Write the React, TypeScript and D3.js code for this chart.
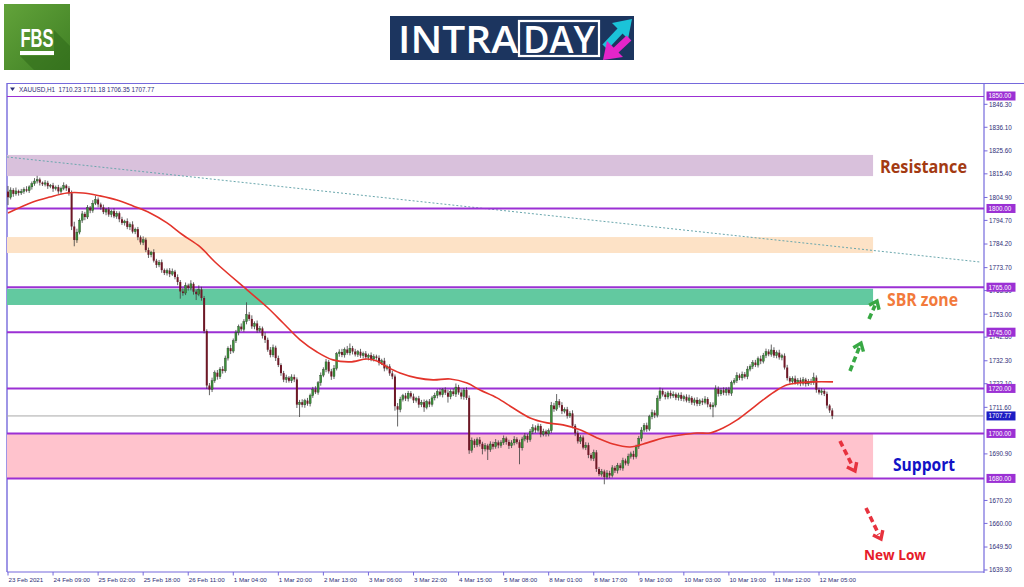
import React from "react";
import * as d3 from "d3";

const W = 1024;
const H = 587;

const symbolHeader = "XAUUSD,H1  1710.23 1711.18 1706.35 1707.77";

const timeLabels = [
  "23 Feb 2021", "24 Feb 09:00", "25 Feb 02:00", "25 Feb 18:00", "26 Feb 11:00",
  "1 Mar 04:00", "1 Mar 20:00", "2 Mar 13:00", "3 Mar 06:00", "3 Mar 22:00",
  "4 Mar 15:00", "5 Mar 08:00", "8 Mar 01:00", "8 Mar 17:00", "9 Mar 10:00",
  "10 Mar 03:00", "10 Mar 19:00", "11 Mar 12:00", "12 Mar 05:00",
];
const barsPerLabel = 17;

const firstOpen = 1807.5;
const closes = [
  1805.0, 1808.2, 1806.5, 1807.8, 1806.9, 1807.6, 1808.5, 1807.9, 1809.6, 1811.0,
  1812.2, 1812.9, 1811.5, 1810.8, 1811.4, 1809.9, 1810.3, 1808.8, 1809.5, 1807.6,
  1808.9, 1810.2, 1809.0, 1806.8, 1792.0, 1786.0, 1789.5, 1794.8, 1797.6, 1796.2,
  1800.4, 1799.1, 1802.3, 1804.0, 1801.8, 1800.5, 1798.4, 1799.6, 1797.3, 1798.8,
  1796.5, 1797.9, 1795.2, 1793.6, 1794.4, 1791.8, 1792.9, 1789.7, 1790.8, 1787.2,
  1784.9, 1786.1, 1781.5, 1779.4, 1780.6, 1776.8, 1774.9, 1776.1, 1772.6, 1771.3,
  1772.4, 1770.8, 1771.9, 1769.5, 1767.3, 1763.1, 1762.4, 1765.8, 1764.6, 1766.5,
  1763.0, 1761.9, 1764.0, 1760.2, 1745.5, 1721.3, 1719.5, 1723.4, 1727.0, 1725.2,
  1728.6, 1727.8, 1733.5, 1737.9, 1736.6, 1741.2, 1744.8, 1747.5, 1746.3, 1749.7,
  1752.8, 1750.9, 1747.6, 1748.9, 1745.8, 1746.7, 1743.4, 1741.6, 1737.2, 1734.9,
  1738.1, 1733.5, 1730.4, 1726.8, 1723.9, 1724.8, 1723.4, 1725.1, 1724.0, 1712.8,
  1713.9, 1712.7, 1714.6, 1713.2, 1716.8, 1719.6, 1718.3, 1722.5, 1725.9, 1728.4,
  1731.8, 1727.6, 1725.3, 1728.9, 1735.4, 1736.2, 1734.9, 1737.3, 1735.8, 1737.9,
  1736.4, 1735.1, 1736.3, 1734.6, 1735.5, 1733.9, 1734.8, 1733.1, 1734.2, 1733.6,
  1731.4, 1732.3, 1728.9, 1729.8, 1726.7, 1725.3, 1712.1, 1710.6, 1715.2, 1716.8,
  1715.5, 1717.9, 1716.4, 1714.7, 1715.6, 1712.8, 1713.9, 1711.6, 1714.2, 1712.9,
  1715.8, 1716.9, 1718.6, 1717.2, 1719.4, 1718.1, 1716.3, 1718.7, 1717.5, 1720.6,
  1718.2, 1716.4, 1719.3, 1715.8, 1692.5, 1696.8, 1694.9, 1697.2, 1695.4, 1693.1,
  1694.6, 1692.8, 1695.3, 1694.1, 1696.0, 1694.7, 1695.9, 1697.8, 1696.2, 1694.5,
  1695.8, 1697.4, 1696.1, 1693.6, 1697.5, 1698.9, 1697.2, 1700.8, 1702.6, 1701.4,
  1703.3, 1699.6, 1700.9, 1699.8, 1701.2, 1712.4, 1710.8, 1714.3, 1712.6, 1709.9,
  1710.7, 1707.8, 1708.9, 1703.4, 1700.1, 1696.5, 1698.2, 1693.7, 1694.8, 1690.4,
  1688.9, 1691.6, 1684.2, 1681.9, 1683.1, 1680.6, 1682.4, 1681.3, 1684.7, 1683.5,
  1685.8, 1684.6, 1687.9, 1686.7, 1689.8, 1690.9, 1689.6, 1694.2, 1697.8, 1701.5,
  1703.6, 1701.9, 1707.4, 1709.2, 1708.1, 1715.6, 1718.9, 1717.3, 1716.2, 1718.0,
  1716.7, 1717.4, 1715.9, 1717.1, 1715.4, 1716.3, 1714.6, 1715.8, 1713.7, 1714.9,
  1713.2, 1714.5, 1713.8, 1715.3, 1712.9, 1711.8, 1712.6, 1719.8, 1717.6, 1719.2,
  1718.1, 1719.5, 1717.9, 1722.6, 1723.5, 1725.8, 1724.7, 1726.3, 1725.2, 1728.6,
  1729.8, 1731.5, 1730.4, 1733.2, 1732.1, 1734.7, 1736.4, 1735.2, 1737.1, 1734.6,
  1735.9, 1733.8, 1734.5, 1729.3, 1724.6, 1723.1, 1724.4, 1722.5, 1723.7, 1722.3,
  1723.9, 1722.0, 1723.2, 1722.6, 1724.8, 1719.4, 1718.2, 1718.9, 1717.6, 1712.4,
  1710.23, 1707.77,
];
const upWick = [
  2.5, 1.2, 0.8, 1.5, 0.6, 1.1, 0.9, 1.4, 0.7, 1.0,
  1.3, 1.6, 0.8, 0.5, 1.2, 0.9, 0.6, 1.1, 0.7, 1.0,
  0.8, 1.4, 0.6, 0.9, 1.2, 2.1, 1.5, 0.8, 1.3, 0.9,
  1.1, 0.7, 1.4, 1.6, 0.9, 0.8, 1.2, 0.6, 1.0, 0.7,
  1.3, 0.9, 0.8, 1.1, 0.6, 1.2, 0.9, 1.4, 0.7, 1.0,
  0.8, 1.5, 0.9, 1.1, 0.6, 1.3, 0.8, 1.0, 1.2, 0.7,
  0.9, 1.1, 1.4, 0.8, 1.2, 0.9, 1.5, 1.3, 0.8, 1.6,
  0.7, 1.0, 1.8, 1.2, 0.9, 0.8, 1.1, 1.4, 1.0, 1.2,
  0.9, 1.3, 1.1, 0.8, 1.5, 1.0, 1.2, 0.9, 1.4, 1.1,
  5.5, 1.2, 1.6, 0.9, 1.3, 1.1, 0.8, 1.5, 1.0, 1.2,
  1.4, 0.9, 1.1, 0.8, 1.0, 1.3, 0.7, 1.2, 1.1, 0.9,
  1.0, 1.3, 0.8, 1.2, 0.9, 1.1, 1.4, 0.8, 1.2, 1.0,
  1.3, 0.9, 1.1, 1.5, 0.8, 1.2, 1.4, 0.9, 1.6, 2.1,
  1.0, 1.2, 0.8, 1.3, 0.9, 1.1, 0.7, 1.2, 1.0, 0.8,
  1.1, 0.9, 1.3, 0.8, 1.0, 1.2, 0.9, 1.4, 1.1, 0.8,
  1.2, 1.0, 0.9, 1.3, 0.7, 1.1, 1.0, 1.2, 0.8, 1.1,
  0.9, 1.2, 1.0, 1.4, 0.8, 1.1, 1.3, 0.9, 1.2, 1.6,
  1.0, 1.3, 0.9, 1.2, 1.1, 1.4, 0.8, 1.0, 1.2, 0.9,
  1.1, 0.8, 1.2, 1.0, 1.5, 0.9, 1.1, 1.3, 0.8, 1.0,
  1.2, 1.4, 0.9, 1.1, 1.0, 1.3, 0.8, 1.2, 1.5, 1.0,
  1.1, 0.9, 1.2, 0.8, 1.0, 1.6, 1.2, 3.2, 1.0, 1.3,
  0.9, 1.1, 1.0, 1.4, 0.8, 1.2, 1.0, 0.9, 1.3, 1.1,
  0.8, 1.2, 1.0, 0.9, 1.1, 0.8, 1.3, 1.0, 1.2, 0.9,
  1.1, 1.0, 1.3, 0.9, 1.2, 1.0, 1.4, 0.8, 1.1, 1.3,
  1.0, 1.2, 0.9, 1.4, 1.1, 1.3, 1.5, 1.0, 1.2, 0.9,
  1.1, 1.3, 0.8, 1.0, 1.2, 0.9, 1.1, 1.4, 0.8, 1.0,
  1.2, 0.9, 1.1, 1.3, 0.8, 1.0, 1.2, 1.6, 1.1, 0.9,
  1.3, 1.0, 1.2, 0.9, 1.1, 1.4, 0.8, 1.2, 1.0, 1.3,
  0.9, 1.1, 1.2, 1.0, 1.4, 1.1, 1.3, 1.0, 2.4, 1.2,
  1.0, 1.3, 0.9, 1.1, 1.2, 0.8, 1.0, 1.3, 0.9, 1.1,
  1.2, 0.8, 1.0, 1.1, 2.2, 1.0, 0.9, 1.2, 0.8, 1.0,
  0.6, 0.95,
];
const downWick = [
  3.5, 1.0, 1.3, 0.8, 1.2, 0.9, 1.1, 0.7, 1.0, 1.2,
  0.9, 1.1, 1.3, 0.8, 1.0, 1.2, 0.9, 1.4, 0.8, 1.1,
  1.0, 0.8, 1.2, 1.1, 1.6, 2.8, 1.3, 1.0, 1.2, 1.4,
  0.9, 1.2, 1.0, 0.8, 1.3, 1.1, 0.9, 1.4, 1.0, 1.2,
  0.8, 1.1, 1.3, 0.9, 1.2, 1.0, 1.4, 0.8, 1.1, 1.3,
  1.0, 1.2, 0.9, 1.4, 1.1, 0.8, 1.3, 1.0, 1.2, 0.9,
  1.1, 1.3, 0.8, 1.0, 1.4, 3.2, 1.2, 0.9, 1.1, 1.0,
  1.3, 2.6, 0.9, 1.2, 1.0, 1.5, 2.5, 1.1, 0.9, 1.3,
  1.0, 1.2, 0.8, 1.1, 1.3, 0.9, 1.0, 1.2, 0.8, 1.1,
  1.2, 0.9, 1.1, 1.3, 1.0, 0.8, 1.2, 1.4, 0.9, 1.1,
  1.0, 1.3, 0.9, 1.2, 1.1, 1.4, 0.8, 1.0, 1.2, 1.5,
  5.5, 1.1, 1.3, 0.9, 1.2, 1.0, 0.8, 1.1, 1.3, 0.9,
  1.2, 1.0, 1.5, 1.1, 0.9, 1.3, 1.0, 1.2, 0.8, 1.1,
  1.3, 0.9, 1.1, 1.0, 1.2, 0.8, 1.4, 1.0, 1.1, 0.9,
  1.2, 1.0, 1.3, 0.9, 1.1, 1.2, 2.0, 7.5, 1.2, 1.0,
  1.1, 1.3, 0.9, 1.2, 1.0, 1.4, 1.1, 2.0, 0.9, 1.2,
  1.0, 1.1, 1.3, 0.8, 1.2, 1.0, 2.6, 1.1, 0.9, 1.3,
  1.0, 1.2, 1.4, 0.9, 1.6, 1.1, 1.3, 1.0, 1.2, 2.4,
  1.1, 4.6, 1.0, 1.2, 0.9, 1.3, 1.1, 1.0, 1.2, 1.4,
  1.0, 1.1, 0.9, 7.3, 1.2, 1.0, 1.3, 0.9, 1.1, 1.2,
  1.0, 1.3, 0.9, 1.2, 1.1, 1.0, 1.2, 0.8, 1.1, 1.3,
  1.0, 1.2, 0.9, 1.1, 1.3, 1.0, 1.2, 0.8, 1.1, 1.4,
  1.0, 1.2, 1.3, 0.9, 1.1, 3.2, 1.0, 1.2, 0.9, 1.1,
  1.3, 1.0, 1.2, 0.9, 1.1, 1.0, 1.2, 0.8, 1.1, 1.3,
  1.0, 1.2, 0.9, 1.1, 1.3, 1.0, 1.2, 0.9, 1.1, 1.0,
  1.2, 0.9, 1.1, 1.3, 1.0, 1.2, 0.8, 1.1, 1.0, 1.3,
  1.1, 1.0, 1.2, 0.9, 1.3, 1.1, 4.6, 1.0, 1.2, 0.9,
  1.1, 1.3, 1.0, 1.2, 0.9, 1.1, 1.0, 1.2, 0.8, 1.1,
  1.0, 1.2, 0.9, 1.1, 1.3, 1.0, 1.2, 0.9, 1.1, 1.0,
  1.2, 1.0, 1.3, 0.9, 1.1, 1.0, 1.2, 0.8, 1.1, 1.3,
  1.0, 1.2, 0.9, 1.1, 1.0, 1.3, 0.9, 1.2, 1.0, 1.3,
  1.1, 1.42,
];

// moving average line: bar index and price
const maBars = [
  0, 9.4, 15.8, 22.3, 28.3, 34.7, 41.1, 47.2, 53.6, 60, 66, 72.5, 78.1, 90.2, 97.7,
  103.8, 110.2, 116.6, 122.6, 129.1, 135.5, 139.2, 143, 147.9, 154.3, 160.4, 166.8,
  173.2, 178.1, 184.5, 190.6, 197, 203.4, 209.4, 215.8, 222.3, 228.3, 234.7, 241.1,
  247.2, 253.6, 260, 264.9, 269.8, 275.1, 280, 284.9, 290.2, 294, 297.7, 303.8, 311.3,
];
const maPrices = [
  1798.0, 1802.9, 1805.1, 1806.9, 1806.9, 1805.6, 1803.8, 1801.1, 1798.0, 1793.6,
  1788.2, 1782.9, 1776.2, 1763.8, 1756.2, 1749.1, 1741.6, 1736.2, 1732.7, 1731.8,
  1733.1, 1732.2, 1729.6, 1726.9, 1724.7, 1723.8, 1724.2, 1722.4, 1719.3, 1715.8,
  1711.3, 1706.9, 1704.7, 1703.8, 1701.6, 1698.0, 1695.3, 1694.0, 1695.8, 1698.0,
  1699.3, 1700.2, 1700.2, 1702.4, 1706.0, 1710.4, 1714.9, 1719.3, 1721.6, 1722.4,
  1722.9, 1722.9,
];

const trendBars = [-0.4, 366.8];
const trendPrices = [1822.9, 1776.2];

const levelPrices = [1850, 1800, 1765, 1745, 1720, 1700, 1680];
const priceTicks = [
  1846.3, 1836.1, 1825.6, 1815.4, 1804.9, 1794.7, 1784.2, 1773.7, 1763.5, 1753.0,
  1742.8, 1732.3, 1722.1, 1711.6, 1690.9, 1670.2, 1660.0, 1649.5, 1639.3,
];
const lastPrice = 1707.77;

const zoneLow = [1814.4, 1780.2, 1757.1, 1680.0];
const zoneHigh = [1823.8, 1787.3, 1764.3, 1700.0];
const zoneEndBar = 326.4;

// styles
const zoneColors = ["#d9c1dc", "#fde2c6", "#62c9a0", "#ffc3cd"];
const levelColor = "#9b30d4";
const frameColor = "#7569dc";
const axisText = "#2e2e78";
const bullColor = "#3d8f3a";
const bullEdge = "#1f3d1f";
const bearColor = "#6e1826";
const wickColor = "#3e3e3e";
const axisFont = "'Liberation Sans', Arial, sans-serif";

const plotLeft = 7;
const plotRight = 984;
const plotTop = 96;
const plotBottom = 572;

function Arrow({ x1, y1, x2, y2, color }: { x1: number; y1: number; x2: number; y2: number; color: string }) {
  const ang = Math.atan2(y2 - y1, x2 - x1);
  const len = 9;
  const a1 = ang + Math.PI - 0.65;
  const a2 = ang + Math.PI + 0.65;
  const sx = x2 - Math.cos(ang) * 5;
  const sy = y2 - Math.sin(ang) * 5;
  return (
    <g>
      <line x1={x1} y1={y1} x2={sx} y2={sy} stroke={color} strokeWidth={3.6} strokeDasharray="6 3.5" />
      <polyline
        points={`${x2 + Math.cos(a1) * len},${y2 + Math.sin(a1) * len} ${x2},${y2} ${x2 + Math.cos(a2) * len},${y2 + Math.sin(a2) * len}`}
        fill="none"
        stroke={color}
        strokeWidth={3.4}
        strokeLinejoin="miter"
      />
    </g>
  );
}

export default function App() {
  const x = d3.scaleLinear().domain([0, 306]).range([8, 819]);
  const y = d3.scaleLinear().domain([1638.4, 1850]).range([plotBottom, plotTop]);

  const candles = closes.map((c, i) => {
    const o = i === 0 ? firstOpen : closes[i - 1];
    const hi = Math.max(o, c) + upWick[i];
    const lo = Math.min(o, c) - downWick[i];
    return { i, o, c, hi, lo };
  });

  const maLine = d3
    .line<number>()
    .x((_, k) => x(maBars[k]))
    .y((p) => y(p))
    .curve(d3.curveCatmullRom.alpha(0.5));

  const bodyW = 2;

  return (
    <svg
      width={W}
      height={H}
      viewBox={`0 0 ${W} ${H}`}
      style={{ position: "absolute", left: 0, top: 0, background: "#fff" }}
    >
      <defs>
        <linearGradient id="fbsg" x1="0" y1="0" x2="1" y2="1">
          <stop offset="0" stopColor="#62a33a" />
          <stop offset="1" stopColor="#3f7f24" />
        </linearGradient>
        <clipPath id="plot">
          <rect x={plotLeft} y={plotTop} width={plotRight - plotLeft} height={plotBottom - plotTop} />
        </clipPath>
      </defs>
      <rect x={0} y={0} width={W} height={H} fill="#fff" />

      {/* FBS logo */}
      <g>
        <rect x={4} y={4} width={66} height={66} fill="url(#fbsg)" />
        <polygon points="20,56 54,56 54,30 70,46 70,70 34,70" fill="#2f6a1a" opacity={0.55} />
        <text
          x={37}
          y={47}
          textAnchor="middle"
          fill="#fff"
          fontFamily="'Liberation Sans Narrow', 'Liberation Sans', Arial, sans-serif"
          fontWeight="bold"
          fontSize={26}
          textLength={33}
          lengthAdjust="spacingAndGlyphs"
        >
          FBS
        </text>
        <rect x={20} y={51} width={34} height={4} fill="#fff" />
      </g>

      {/* INTRADAY logo */}
      <g>
        <rect x={390} y={16} width={244} height={44} fill="#1c355f" />
        <text
          x={398}
          y={53}
          fill="#fff"
          fontFamily="'Open Sans', Arial, sans-serif"
          fontWeight={600}
          fontSize={38}
          textLength={120}
          lengthAdjust="spacingAndGlyphs"
        >
          INTRA
        </text>
        <rect x={519} y={21} width={80} height={35} fill="none" stroke="#fff" strokeWidth={2.2} />
        <text
          x={523}
          y={53}
          fill="#fff"
          fontFamily="'Open Sans', Arial, sans-serif"
          fontWeight={600}
          fontSize={38}
          textLength={72}
          lengthAdjust="spacingAndGlyphs"
        >
          DAY
        </text>
        <line x1={605} y1={47} x2={621} y2={30} stroke="#1bc3d8" strokeWidth={7} />
        <polygon points="632,19 612,23 628,39" fill="#1bc3d8" />
        <line x1={629} y1={38} x2={614} y2={52} stroke="#e425c9" strokeWidth={7} />
        <polygon points="603,60 607,41 623,57" fill="#e425c9" />
      </g>

      {/* chart frame */}
      <line x1={plotLeft} y1={83.5} x2={W} y2={83.5} stroke={frameColor} strokeWidth={1.2} />
      <line x1={plotLeft} y1={83} x2={plotLeft} y2={plotBottom} stroke={frameColor} strokeWidth={1.4} />
      <line x1={plotRight} y1={83} x2={plotRight} y2={plotBottom + 1} stroke={frameColor} strokeWidth={1.2} />
      <line x1={plotLeft} y1={plotBottom} x2={plotRight} y2={plotBottom} stroke={frameColor} strokeWidth={1.2} />
      <path d="M10,87.5 L15,87.5 L12.5,91 Z" fill={axisText} />
      <text x={19} y={91.5} fontSize={6.3} fill={axisText} fontFamily={axisFont} xmlSpace="preserve">
        {symbolHeader}
      </text>

      <g clipPath="url(#plot)">
        {zoneLow.map((lo, k) => (
          <rect
            key={`z${k}`}
            x={x(-0.4)}
            y={y(zoneHigh[k])}
            width={x(zoneEndBar) - x(-0.4)}
            height={y(lo) - y(zoneHigh[k])}
            fill={zoneColors[k]}
          />
        ))}
        <line
          x1={x(trendBars[0])}
          y1={y(trendPrices[0])}
          x2={x(trendBars[1])}
          y2={y(trendPrices[1])}
          stroke="#6aa7ad"
          strokeWidth={1}
          strokeDasharray="2 2"
        />
        <line x1={plotLeft} x2={plotRight} y1={y(lastPrice)} y2={y(lastPrice)} stroke="#a8a8a8" strokeWidth={1} />
        {levelPrices.map((p) => (
          <line key={`l${p}`} x1={plotLeft} x2={plotRight} y1={y(p)} y2={y(p)} stroke={levelColor} strokeWidth={2} />
        ))}
        {candles.map((d) => {
          const cx = x(d.i);
          const top = y(Math.max(d.o, d.c));
          const bot = y(Math.min(d.o, d.c));
          const bull = d.c >= d.o;
          return (
            <g key={`c${d.i}`}>
              <line x1={cx} x2={cx} y1={y(d.hi)} y2={y(d.lo)} stroke={wickColor} strokeWidth={0.8} />
              <rect
                x={cx - bodyW / 2}
                y={top}
                width={bodyW}
                height={Math.max(0.9, bot - top)}
                fill={bull ? bullColor : bearColor}
                stroke={bull ? bullEdge : "none"}
                strokeWidth={0.35}
              />
            </g>
          );
        })}
        <path d={maLine(maPrices) || ""} fill="none" stroke="#e3342b" strokeWidth={1.6} />
      </g>

      {/* x axis */}
      {timeLabels.map((t, k) => {
        const tx = x(k * barsPerLabel);
        return (
          <g key={`t${k}`}>
            <line x1={tx} x2={tx} y1={plotBottom} y2={plotBottom + 3.5} stroke={frameColor} strokeWidth={1} />
            <text x={tx + 0.5} y={581.5} fontSize={6.2} fill={axisText} fontFamily={axisFont}>
              {t}
            </text>
          </g>
        );
      })}

      {/* y axis */}
      {priceTicks.map((p) => (
        <g key={`p${p}`}>
          <line x1={plotRight} x2={plotRight + 3.5} y1={y(p)} y2={y(p)} stroke={frameColor} strokeWidth={1} />
          <text x={989} y={y(p) + 2.3} fontSize={6.3} fill={axisText} fontFamily={axisFont}>
            {p.toFixed(2)}
          </text>
        </g>
      ))}
      {levelPrices.map((p) => (
        <g key={`lb${p}`}>
          <rect x={986.5} y={y(p) - 4.5} width={29} height={9} fill={levelColor} />
          <text x={988.5} y={y(p) + 2.3} fontSize={6.3} fill="#fff" fontFamily={axisFont}>
            {p.toFixed(2)}
          </text>
        </g>
      ))}
      <g>
        <rect x={986.5} y={y(lastPrice) - 4.5} width={29} height={9} fill="#1c1cc4" />
        <text x={988.5} y={y(lastPrice) + 2.3} fontSize={6.3} fill="#fff" fontFamily={axisFont}>
          {lastPrice.toFixed(2)}
        </text>
      </g>

      {/* annotations */}
      <text
        x={880}
        y={173}
        fill="#a33a12"
        fontSize={17}
        fontWeight="bold"
        fontFamily="'Open Sans', Arial, sans-serif"
        textLength={87}
        lengthAdjust="spacingAndGlyphs"
      >
        Resistance
      </text>
      <text
        x={887}
        y={306}
        fill="#f27a3c"
        fontSize={17}
        fontWeight="bold"
        fontFamily="'Open Sans', Arial, sans-serif"
        textLength={71}
        lengthAdjust="spacingAndGlyphs"
      >
        SBR zone
      </text>
      <text
        x={893}
        y={471}
        fill="#1212c6"
        fontSize={17}
        fontWeight="bold"
        fontFamily="'Open Sans', Arial, sans-serif"
        textLength={62}
        lengthAdjust="spacingAndGlyphs"
      >
        Support
      </text>
      <text
        x={864}
        y={560}
        fill="#e61b2a"
        fontSize={15}
        fontWeight="bold"
        fontFamily="'Open Sans', Arial, sans-serif"
        textLength={62}
        lengthAdjust="spacingAndGlyphs"
      >
        New Low
      </text>

      <Arrow x1={869} y1={319} x2={877} y2={301} color="#38a844" />
      <Arrow x1={850} y1={371} x2={861} y2={343} color="#38a844" />
      <Arrow x1={840} y1={441} x2={855} y2={471} color="#e7323e" />
      <Arrow x1={866} y1={508} x2={881} y2={539} color="#e7323e" />
    </svg>
  );
}
